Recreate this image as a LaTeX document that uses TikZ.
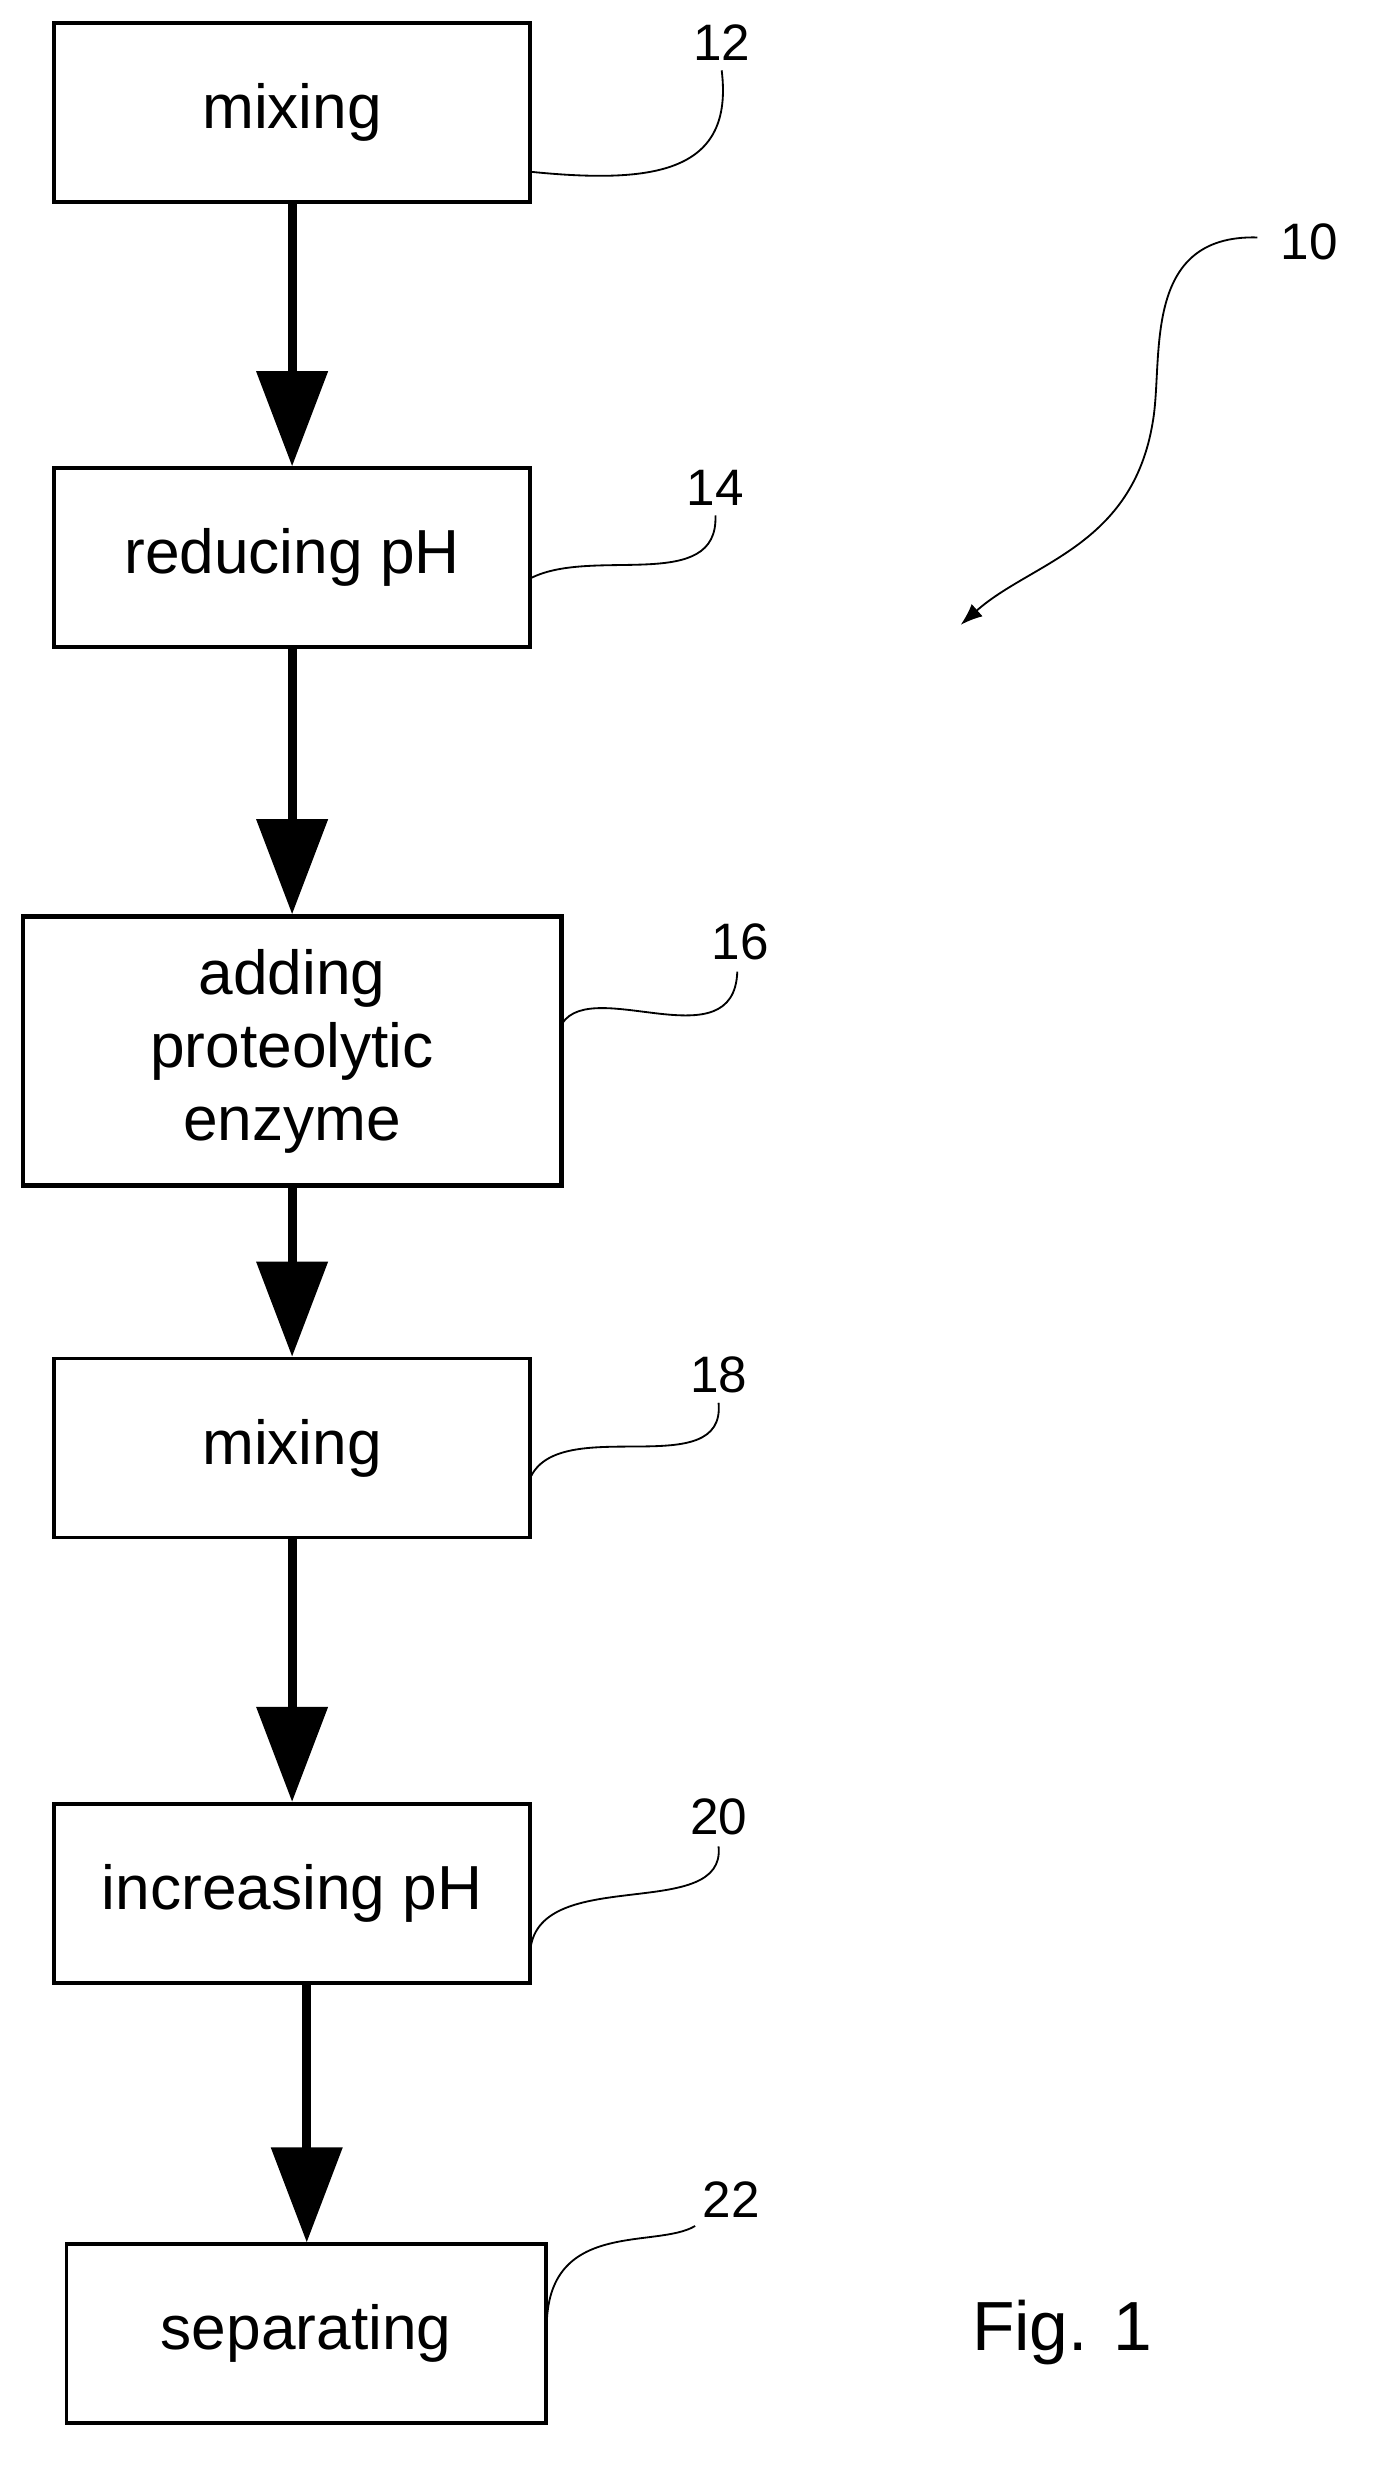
\documentclass[tikz,border=0pt]{standalone}
\usepackage{fontspec}
\setmainfont{Liberation Sans}
\usetikzlibrary{arrows.meta}
\begin{document}
\begin{tikzpicture}[x=0.03cm,y=-0.03cm,
 box/.style={draw,line width=2pt,inner sep=0pt,font=\fontsize{34}{40}\selectfont,align=center},
 flow/.style={line width=5pt,-{Triangle[length=52pt,width=38pt]}},
 lead/.style={line width=1pt},
 num/.style={font=\fontsize{28}{32}\selectfont}]
\useasboundingbox (0,0) rectangle (880,1587);
\node[box,minimum width=306*0.85pt,minimum height=115*0.85pt] (b1) at (187,72) {mixing};
\node[box,minimum width=306*0.85pt,minimum height=115*0.85pt] (b2) at (187,357) {reducing pH};
\node[box,line width=2.6pt,minimum width=346*0.85pt,minimum height=173*0.85pt] (b3) at (187,673) {adding\\proteolytic\\enzyme};
\node[box,minimum width=306*0.85pt,minimum height=115*0.85pt] (b4) at (187,927) {mixing};
\node[box,minimum width=306*0.85pt,minimum height=115*0.85pt] (b5) at (187,1212) {increasing pH};
\node[box,minimum width=308*0.85pt,minimum height=115*0.85pt] (b6) at (196,1494) {separating};
\draw[flow] (b1.south) -- (b2.north);
\draw[flow] (b2.south) -- (b3.north);
\draw[flow] (b3.south) -- (b4.north);
\draw[flow] (b4.south) -- (b5.north);
\coordinate (s5) at ([xshift=8pt]b5.south);
\draw[flow] (s5) -- (b6.north -| s5);
\node[num] (n12) at (462,27) {12};
\node[num] (n14) at (458,312) {14};
\node[num] (n16) at (474,603) {16};
\node[num] (n18) at (460,880) {18};
\node[num] (n20) at (460,1163) {20};
\node[num] (n22) at (468,1408) {22};
\node[num] (n10) at (838,155) {10};
\node[font=\fontsize{38}{44}\selectfont] (fig) at (680,1493) {Fig. 1};
\coordinate (c12) at (340,110);
\draw[lead] (c12) .. controls (420,118) and (470,110) .. (462,45);
\coordinate (c14) at (340,370);
\draw[lead] (c14) .. controls (380,350) and (460,380) .. (458,330);
\coordinate (c16) at (360,655);
\draw[lead] (c16) .. controls (380,625) and (470,680) .. (472,622);
\coordinate (c18) at (340,945);
\draw[lead] (c18) .. controls (360,905) and (465,950) .. (460,898);
\coordinate (c20) at (340,1245);
\draw[lead] (c20) .. controls (350,1195) and (465,1230) .. (460,1182);
\coordinate (c22) at (350,1490);
\draw[lead] (c22) .. controls (350,1420) and (420,1440) .. (445,1425);
\coordinate (c10) at (615,400);
\draw[lead,-{Latex[length=12pt,width=9pt]}] (805,152) .. controls (730,150) and (745,230) .. (738,270) .. controls (725,350) and (660,360) .. (c10);
\end{tikzpicture}
\end{document}
